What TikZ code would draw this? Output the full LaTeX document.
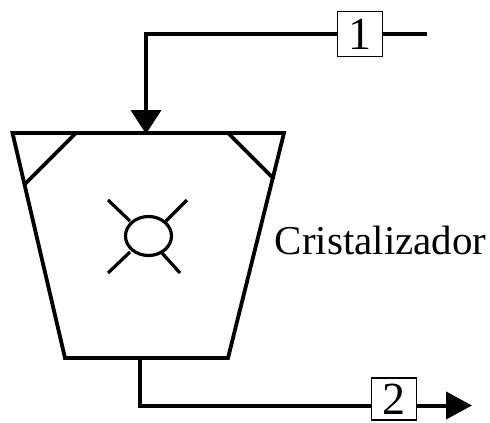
\documentclass[tikz,border=0pt]{standalone}
\usepackage{fontspec}
\setmainfont{Liberation Serif}
\usetikzlibrary{arrows.meta,shapes.geometric}
\tikzset{
  pipe/.style={line width=4pt,line join=miter},
  vessel/.style={line width=3.8pt,line join=miter},
  tagbox/.style={draw,line width=1.6pt,fill=white,minimum width=45pt,minimum height=44pt,inner sep=0pt,font=\fontsize{46}{46}\selectfont},
  agit/.style={line width=3.2pt},
  bigtip/.style={-{Triangle[length=24pt,width=30pt]}},
  midtip/.style={-{Triangle[length=26pt,width=27pt]}}
}
\begin{document}
\begin{tikzpicture}[x=1pt,y=-1pt]
\useasboundingbox (0,0) rectangle (490,423);
\coordinate (tl) at (12.5,133);
\coordinate (tr) at (284,133);
\coordinate (br) at (228,358);
\coordinate (bl) at (65,358);
\draw[vessel] (tl) -- (tr) -- (br) -- (bl) -- cycle;
\coordinate (lb1) at (76,133);
\coordinate (lb2) at (25,184);
\coordinate (rb1) at (228,133);
\coordinate (rb2) at (274,179);
\draw[vessel] (lb1) -- (lb2);
\draw[vessel] (rb1) -- (rb2);
% agitator
\node[draw,agit,ellipse,minimum width=46pt,minimum height=39pt,inner sep=0pt] (imp) at (148.5,236) {};
\coordinate (s1) at (108,200);
\coordinate (s2) at (187,200);
\coordinate (s3) at (108,273);
\coordinate (s4) at (180,273);
\draw[agit] (s1) -- (130,221);
\draw[agit] (s2) -- (166,221);
\draw[agit] (s3) -- (130,252);
\draw[agit] (s4) -- (162,253);
% streams
\node[tagbox,minimum height=45pt] (t1) at (360,34) {1};
\node[tagbox,minimum height=42pt] (t2) at (394,399) {2};
\coordinate (inend) at (427,34);
\coordinate (intop) at (146,34);
\coordinate (intip) at (146,134);
\coordinate (outtop) at (140,358);
\coordinate (outbend) at (140,405.5);
\coordinate (outend) at (472,405.5);
\draw[pipe] (inend) -- (t1);
\draw[pipe,bigtip] (t1) -- (intop) -- (intip);
\draw[pipe] (outtop) -- (outbend) -- (t2.west |- outbend);
\draw[pipe,midtip] (t2.east |- outend) -- (outend);
\node[anchor=west,inner sep=0pt,font=\fontsize{41}{41}\selectfont] (lab) at (274.5,240) {Cristalizador};
\end{tikzpicture}
\end{document}
